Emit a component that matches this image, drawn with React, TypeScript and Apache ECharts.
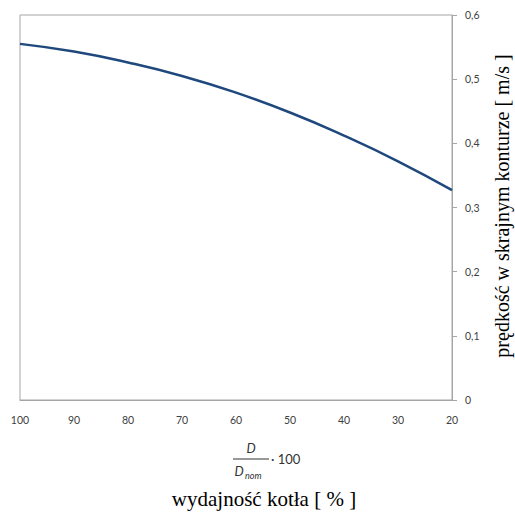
import React, { useEffect, useRef } from "react";
import * as echarts from "echarts";

const load = [100, 90, 80, 70, 60, 50, 40, 30, 20];
const speed = [0.555, 0.543, 0.526, 0.505, 0.479, 0.448, 0.412, 0.372, 0.327];
const yTicks = { min: 0, max: 0.6, interval: 0.1 };
const xTicks = { min: 20, max: 100, interval: 10 };
const yTitle = "prędkość w skrajnym konturze [ m/s ]";
const xTitle = "wydajność kotła [ % ]";

export default function App() {
  const ref = useRef<HTMLDivElement>(null);
  useEffect(() => {
    if (!ref.current) return;
    const chart = echarts.init(ref.current, null, { renderer: "svg" });
    const sans = "Lato";
    const serif = "Liberation Serif";
    chart.setOption({
      animation: false,
      backgroundColor: "#ffffff",
      grid: {
        left: 20,
        right: 63,
        top: 15,
        bottom: 114,
        show: true,
        borderColor: "#a6a6a6",
        borderWidth: 1,
      },
      xAxis: {
        type: "value",
        inverse: true,
        min: xTicks.min,
        max: xTicks.max,
        interval: xTicks.interval,
        axisLine: { show: true, lineStyle: { color: "#a6a6a6", width: 1 } },
        axisTick: { show: false },
        splitLine: { show: false },
        axisLabel: { color: "#404040", fontFamily: sans, fontSize: 10.5, margin: 14 },
      },
      yAxis: {
        type: "value",
        position: "right",
        min: yTicks.min,
        max: yTicks.max,
        interval: yTicks.interval,
        axisLine: { show: true, lineStyle: { color: "#a6a6a6", width: 1 } },
        axisTick: { show: true, length: 5, lineStyle: { color: "#a6a6a6" } },
        splitLine: { show: false },
        axisLabel: {
          color: "#404040",
          fontFamily: sans,
          fontSize: 10.5,
          margin: 13,
          formatter: (v: number) => (Math.round(v * 10) / 10).toString().replace(".", ","),
        },
      },
      series: [
        {
          type: "line",
          data: load.map((x, i) => [x, speed[i]]),
          smooth: true,
          showSymbol: false,
          lineStyle: { color: "#1f497d", width: 2.5 },
        },
      ],
      graphic: [
        {
          type: "text",
          x: 502,
          y: 206,
          rotation: Math.PI / 2,
          style: {
            text: yTitle,
            fontFamily: serif,
            fontSize: 20,
            fill: "#000000",
            textAlign: "center",
            textVerticalAlign: "middle",
          },
        },
        {
          type: "text",
          x: 251,
          y: 448,
          style: {
            text: "D",
            fontFamily: sans,
            fontStyle: "italic",
            fontSize: 13,
            fill: "#333333",
            textAlign: "center",
            textVerticalAlign: "middle",
          },
        },
        {
          type: "line",
          shape: { x1: 233, y1: 459, x2: 269, y2: 459 },
          style: { stroke: "#333333", lineWidth: 1 },
        },
        {
          type: "text",
          x: 239,
          y: 471,
          style: {
            text: "D",
            fontFamily: sans,
            fontStyle: "italic",
            fontSize: 13,
            fill: "#333333",
            textAlign: "center",
            textVerticalAlign: "middle",
          },
        },
        {
          type: "text",
          x: 245,
          y: 475,
          style: {
            text: "nom",
            fontFamily: sans,
            fontStyle: "italic",
            fontSize: 9,
            fill: "#333333",
            textAlign: "left",
            textVerticalAlign: "middle",
          },
        },
        {
          type: "text",
          x: 271,
          y: 459,
          style: {
            text: "· 100",
            fontFamily: sans,
            fontSize: 13,
            fill: "#333333",
            textAlign: "left",
            textVerticalAlign: "middle",
          },
        },
        {
          type: "text",
          x: 264,
          y: 499,
          style: {
            text: xTitle,
            fontFamily: serif,
            fontSize: 21,
            fill: "#000000",
            textAlign: "center",
            textVerticalAlign: "middle",
          },
        },
      ],
    });
    return () => chart.dispose();
  }, []);
  return (
    <div
      ref={ref}
      style={{ position: "fixed", left: 0, top: 0, width: 515, height: 514, background: "#fff" }}
    />
  );
}
